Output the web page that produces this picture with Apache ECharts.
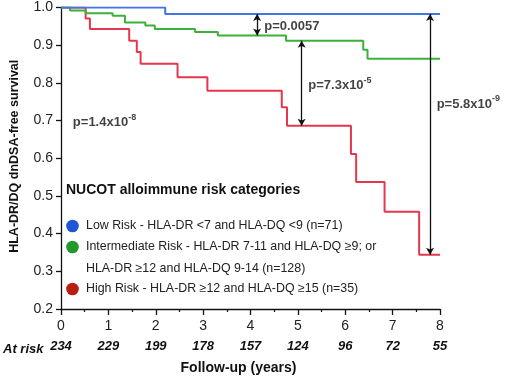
<!DOCTYPE html>
<html>
<head>
<meta charset="utf-8">
<script src="https://cdn.jsdelivr.net/npm/echarts@6/dist/echarts.min.js"></script>
<style>
  html, body { margin: 0; padding: 0; background: #fff; }
  #main { width: 505px; height: 380px; }
</style>
</head>
<body>
<div id="main"></div>
<script>
// 随访时间 (年) / 生存率, 阶梯点 [t, S]
var lowRisk = [[0, 1.0], [2.2, 0.983], [8, 0.983]];
var midRisk = [[0, 1.0], [0.19, 0.992], [0.52, 0.985], [1.09, 0.978], [1.35, 0.96], [1.78, 0.952],
  [1.98, 0.943], [2.83, 0.935], [3.31, 0.926], [4.75, 0.912], [6.38, 0.888], [6.47, 0.864], [8, 0.864]];
var highRisk = [[0, 1.0], [0.52, 0.971], [0.61, 0.943], [1.44, 0.912], [1.6, 0.882], [1.68, 0.851],
  [2.46, 0.815], [3.09, 0.779], [4.66, 0.735], [4.77, 0.686], [6.12, 0.611], [6.23, 0.537],
  [6.83, 0.458], [7.56, 0.344], [8, 0.344]];
var atRisk = [234, 229, 199, 178, 157, 124, 96, 72, 55];

// 比较箭头 [x, y1, y2]
var arrows = [[4.14, 0.983, 0.926], [5.08, 0.912, 0.686], [7.79, 0.983, 0.344]];
// p值标注 [x, y, 主体, 上标]
var pLabels = [
  [4.29, 0.954, 'p=0.0057', ''],
  [5.22, 0.796, 'p=7.3x10', '-5'],
  [7.93, 0.748, 'p=5.8x10', '-9'],
  [0.25, 0.699, 'p=1.4x10', '-8']
];

var legendNames = [
  ['Low Risk - HLA-DR <7 and HLA-DQ <9 (n=71)'],
  ['Intermediate Risk - HLA-DR 7-11 and HLA-DQ \u22659; or', 'HLA-DR \u226512 and HLA-DQ 9-14 (n=128)'],
  ['High Risk - HLA-DR \u226512 and HLA-DQ \u226515 (n=35)']
];
var lineColors = ['#4174e4', '#3bb13b', '#e2374d'];
var dotColors = ['#1f56d6', '#23992b', '#b71f10'];

var FONT = '"Liberation Sans", Arial, Helvetica, sans-serif';

var chart = echarts.init(document.getElementById('main'));

var markLineData = [];
arrows.forEach(function (a) {
  markLineData.push([{ coord: [a[0], a[1]] }, { coord: [a[0], a[2]] }]);
});

// 图例 (自绘)
var legendGraphic = [{
  type: 'text', left: 66, top: 183,
  style: { text: 'NUCOT alloimmune risk categories', font: 'bold 14px ' + FONT, fill: '#111' }
}];
var rowY = [226, 247, 289];
legendNames.forEach(function (lines, i) {
  legendGraphic.push({
    type: 'circle', shape: { cx: 72.5, cy: rowY[i], r: 6.3 },
    style: { fill: dotColors[i] }
  });
  lines.forEach(function (t, j) {
    legendGraphic.push({
      type: 'text', x: 86, y: rowY[i] + j * 21.5,
      style: { text: t, font: '12.4px ' + FONT, fill: '#222', verticalAlign: 'middle' }
    });
  });
});
legendGraphic.push({
  type: 'text', x: 3, y: 349,
  style: { text: 'At risk', font: 'italic bold 13px ' + FONT, fill: '#111', verticalAlign: 'middle' }
});

var option = {
  backgroundColor: '#fff',
  animation: false,
  grid: { left: 58, right: 65, top: 7.5, bottom: 69 },
  xAxis: [{
    type: 'value', min: 0, max: 8, interval: 1, position: 'bottom',
    name: 'Follow-up (years)', nameLocation: 'middle', nameGap: 52,
    nameTextStyle: { fontFamily: FONT, fontWeight: 'bold', fontSize: 14, color: '#111', padding: [0, 24, 0, 0] },
    axisLine: { lineStyle: { color: '#111', width: 1.3 } },
    axisTick: { length: 6, lineStyle: { color: '#111', width: 1.3 } },
    minorTick: { show: true, splitNumber: 2, length: 3, lineStyle: { color: '#111', width: 1.2 } },
    splitLine: { show: false },
    axisLabel: { fontFamily: FONT, fontSize: 14, color: '#222', margin: 10 }
  }, {
    // 风险人数行
    type: 'value', min: 0, max: 8, interval: 1, position: 'bottom',
    axisLine: { show: false }, axisTick: { show: false }, splitLine: { show: false },
    axisLabel: {
      fontFamily: FONT, fontSize: 13, fontStyle: 'italic', fontWeight: 'bold', color: '#111', margin: 31,
      formatter: function (v) { return atRisk[Math.round(v)]; }
    }
  }],
  yAxis: {
    type: 'value', min: 0.2, max: 1.0, interval: 0.1,
    name: 'HLA-DR/DQ dnDSA-free survival', nameLocation: 'middle', nameGap: 40,
    nameTextStyle: { fontFamily: FONT, fontWeight: 'bold', fontSize: 12.5, color: '#111', padding: [0, 0, 0, 4] },
    axisLine: { show: true, lineStyle: { color: '#111', width: 1.3 } },
    axisTick: { show: true, length: 5, lineStyle: { color: '#111', width: 1.3 } },
    splitLine: { show: false },
    axisLabel: {
      fontFamily: FONT, fontSize: 14, color: '#222', margin: 8,
      formatter: function (v) { return v.toFixed(1); }
    }
  },
  series: [
    { name: 'low', type: 'line', step: 'end', data: lowRisk, showSymbol: false, z: 4,
      lineStyle: { color: lineColors[0], width: 2 } },
    { name: 'mid', type: 'line', step: 'end', data: midRisk, showSymbol: false, z: 3,
      lineStyle: { color: lineColors[1], width: 2 } },
    { name: 'high', type: 'line', step: 'end', data: highRisk, showSymbol: false, z: 2,
      lineStyle: { color: lineColors[2], width: 2 },
      markLine: {
        silent: true, symbol: ['arrow', 'arrow'], symbolSize: [6, 7],
        label: { show: false },
        lineStyle: { color: '#111', width: 1.3, type: 'solid' },
        data: markLineData
      } },
    { name: 'p', type: 'scatter', symbolSize: 0, z: 5, silent: true,
      data: pLabels.map(function (p) { return [p[0], p[1]]; }),
      label: {
        show: true, position: 'right', distance: 0,
        formatter: function (params) {
          var d = pLabels[params.dataIndex];
          return '{m|' + d[2] + '}' + (d[3] ? '{s|' + d[3] + '}' : '');
        },
        rich: {
          m: { fontFamily: FONT, fontWeight: 'bold', fontSize: 13, color: '#111', lineHeight: 16, verticalAlign: 'bottom' },
          s: { fontFamily: FONT, fontWeight: 'bold', fontSize: 9, color: '#111', lineHeight: 16, verticalAlign: 'top' }
        }
      } }
  ],
  graphic: legendGraphic
};
chart.setOption(option);
</script>
</body>
</html>
